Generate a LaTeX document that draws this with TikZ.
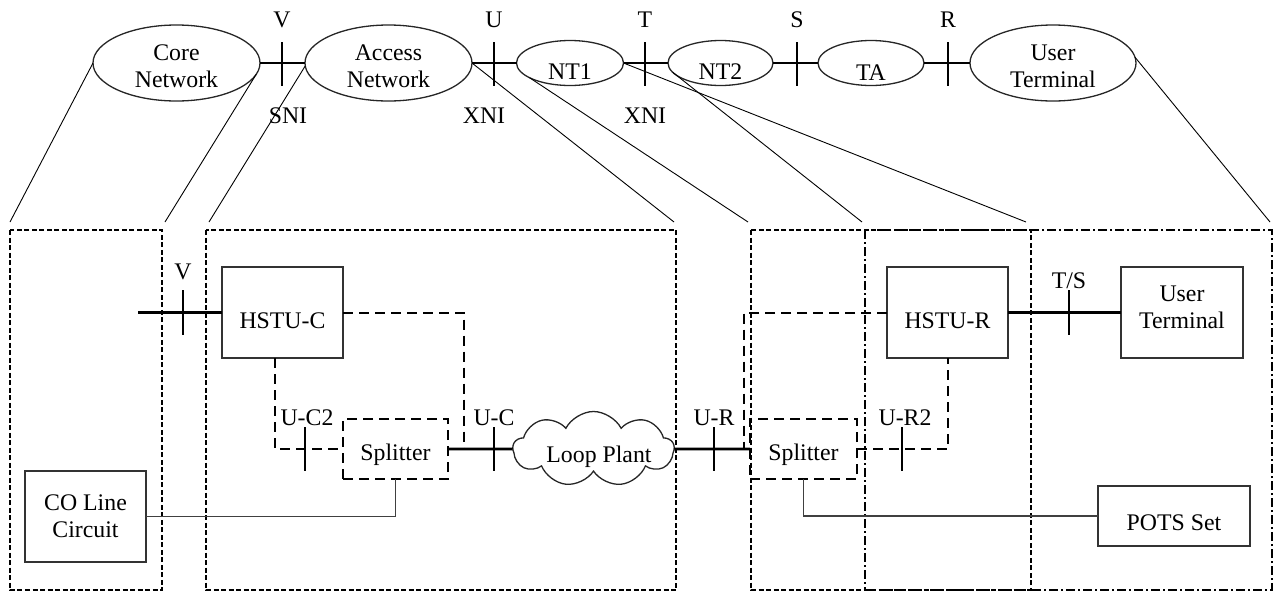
\documentclass[tikz,border=0pt]{standalone}
\usepackage{fontspec}
\setmainfont{Liberation Serif}
\usetikzlibrary{shapes.geometric,shapes.symbols}
\begin{document}
\begin{tikzpicture}[x=1pt,y=-1pt,
  every node/.style={font=\fontsize{23.8}{27}\selectfont, inner sep=0pt, outer sep=0pt},
  ell/.style={draw=black!85, ellipse, line width=1.3pt},
  blk/.style={draw=black!80, rectangle, line width=1.3pt},
  spl/.style={draw, rectangle, line width=2pt, dash pattern=on 10pt off 6pt},
  thk/.style={line width=2.7pt},
  dsh/.style={line width=2pt, dash pattern=on 10pt off 6pt},
  thn/.style={line width=0.9pt},
  wire/.style={line width=1.4pt, black!75},
  grp/.style={line width=1.8pt, dash pattern=on 5pt off 2.5pt},
  grpdd/.style={line width=1.8pt, dash pattern=on 9pt off 3pt on 2pt off 3pt},
  cld/.style={draw=black!85, cloud, cloud puffs=9, cloud puff arc=125, aspect=2.2, line width=1.3pt}
]
\useasboundingbox (0,0) rectangle (1285,592);

% ---------- top row ----------
\node[ell, minimum width=167pt, minimum height=76pt] (core) at (176.5,63) {};
\node[align=center] (coret) at (176.5,66.5) {Core\\Network};
\node[ell, minimum width=167pt, minimum height=76pt] (access) at (388.5,63) {};
\node[align=center] (accesst) at (388.5,66.5) {Access\\Network};
\node[ell, minimum width=107pt, minimum height=45pt] (nt1) at (570,63) {};
\node (nt1t) at (570,72) {NT1};
\node[ell, minimum width=105pt, minimum height=45pt] (nt2) at (720.5,63) {};
\node (nt2t) at (720.5,72) {NT2};
\node[ell, minimum width=106pt, minimum height=45pt] (ta) at (871,63) {};
\node (tat) at (871,73) {TA};
\node[ell, minimum width=166pt, minimum height=76pt] (ut) at (1053,63) {};
\node[align=center] (utt) at (1053,66.5) {User\\Terminal};

\draw[thk] (core.east) -- (access.west);
\draw[thk] (access.east) -- (nt1.west);
\draw[thk] (nt1.east) -- (nt2.west);
\draw[thk] (nt2.east) -- (ta.west);
\draw[thk] (ta.east) -- (ut.west);

\draw[thk] (282,42) -- (282,86);
\draw[thk] (494,42) -- (494,86);
\draw[thk] (645,42) -- (645,86);
\draw[thk] (797,42) -- (797,86);
\draw[thk] (948,42) -- (948,86);

\node (lV) at (282,20) {V};
\node (lU) at (494,20) {U};
\node (lT) at (645,20) {T};
\node (lS) at (797,20) {S};
\node (lR) at (948,20) {R};
\node (lsni) at (288,116) {SNI};
\node (lxni1) at (484,116) {XNI};
\node (lxni2) at (645,116) {XNI};

% ---------- projection lines ----------
\coordinate (k1) at (10,222);
\coordinate (k2) at (165,222);
\coordinate (k3) at (209,222);
\coordinate (k4) at (674,222);
\coordinate (k5) at (748,222);
\coordinate (k6) at (1026,222);
\coordinate (k7) at (862,222);
\coordinate (k8) at (1270,222);
\draw[thn] (core.west) -- (k1);
\draw[thn] (core.-8.5) -- (k2);
\draw[thn] (access.182) -- (k3);
\draw[thn] (access.east) -- (k4);
\draw[thn] (nt1.200) -- (k5);
\draw[thn] (nt1.east) -- (k6);
\draw[thn] (nt2.191) -- (k7);
\draw[thn] (ut.4) -- (k8);

% ---------- group boxes ----------
\draw[grp] (10,230) rectangle (162,590);
\draw[grp] (206,230) rectangle (676,590);
\draw[grp] (751,230) rectangle (1031,590);
\draw[grpdd] (865,230) rectangle (1272,590);

% ---------- bottom blocks ----------
\node[blk, minimum width=121pt, minimum height=91pt] (hstuc) at (282.5,312.5) {};
\node (hstuct) at (282.5,320.5) {HSTU-C};
\node[spl, minimum width=105pt, minimum height=60pt] (splitl) at (395.5,449) {};
\node (splitlt) at (395.5,455) {Splitter};
\node[cld, minimum width=161pt, minimum height=75pt] (loop) at (593.5,449) {};
\node (loopt) at (599,457) {Loop Plant};
\node[spl, minimum width=107pt, minimum height=60pt] (splitr) at (803.5,449) {};
\node (splitrt) at (803.5,455) {Splitter};
\node[blk, minimum width=121pt, minimum height=91pt] (hstur) at (947.5,312.5) {};
\node (hsturt) at (947.5,320.5) {HSTU-R};
\node[blk, minimum width=122pt, minimum height=91pt] (utb) at (1182,312.5) {};
\node[align=center] (utbt) at (1182,307) {User\\Terminal};
\node[blk, minimum width=121pt, minimum height=91pt] (co) at (85.5,516.5) {};
\node[align=center] (cot) at (85.5,516.5) {CO Line\\Circuit};
\node[blk, minimum width=152pt, minimum height=60pt] (pots) at (1174,516) {};
\node (potst) at (1174,523) {POTS Set};

% ---------- connections ----------
\coordinate (vfree) at (138,312.5);
\coordinate (jl) at (464,449);
\coordinate (jr) at (744,449);
\draw[thk] (vfree) -- (hstuc.west);
\draw[dsh] (hstuc.east) -| (jl);
\draw[dsh] ([xshift=-7.5pt]hstuc.south) |- (splitl.west);
\draw[thk] (splitl.east) -- (loop.west);
\draw[thk] (loop.east) -- (splitr.west);
\draw[dsh] (hstur.west) -| (jr);
\draw[dsh] (splitr.east) -| (hstur.south);
\draw[thk] (hstur.east) -- (utb.west);
\draw[wire] (splitl.south) |- (co.east);
\draw[wire] (splitr.south) |- (pots.west);

% ---------- interface ticks ----------
\draw[thk] (183,290) -- (183,335);
\draw[thk] (305,427) -- (305,471);
\draw[thk] (494,427) -- (494,471);
\draw[thk] (714,427) -- (714,471);
\draw[thk] (902,427) -- (902,471);
\draw[thk] (1069,290) -- (1069,335);

\node (bV) at (183,272) {V};
\node (bUC2) at (307,418) {U-C2};
\node (bUC) at (494,418) {U-C};
\node (bUR) at (714,418) {U-R};
\node (bUR2) at (905,418) {U-R2};
\node (bTS) at (1069,281) {T/S};
\end{tikzpicture}
\end{document}
